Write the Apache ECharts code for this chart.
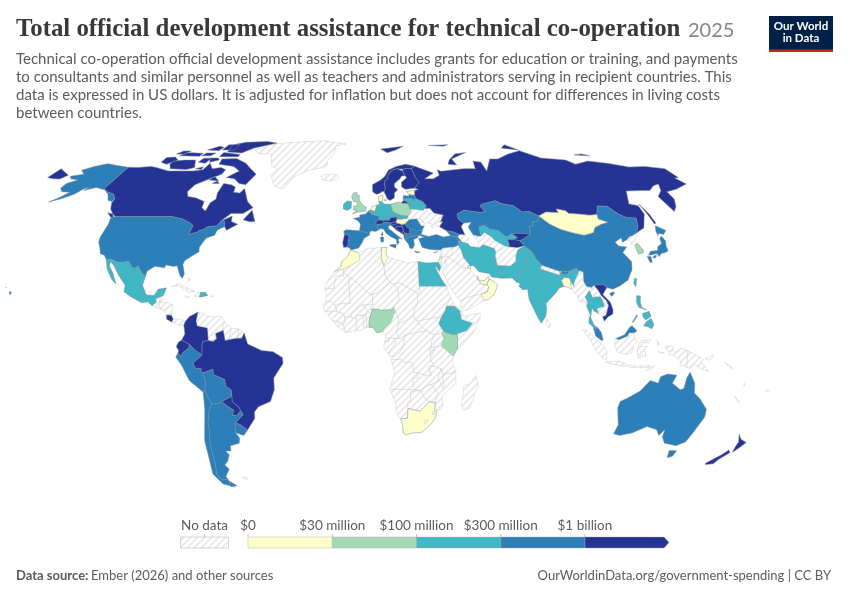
<!DOCTYPE html>
<html><head><meta charset="utf-8">
<style>html,body{margin:0;padding:0;background:#fff}#c{width:850px;height:600px}</style>
<script src="https://cdn.jsdelivr.net/npm/echarts@6/dist/echarts.min.js"></script>
</head><body><div id="c"></div>
<script>
// ---------- values ----------
const countryNames = ["Canada","Russia","Colombia","Ecuador","Brazil","Paraguay","Costa Rica","Norway","Sweden","Finland","Portugal","Switzerland","Austria","Bosnia and Herzegovina","Serbia","Croatia","Slovenia","Montenegro","Kyrgyzstan","Tajikistan","Vietnam","New Zealand",
"United States","Peru","Bolivia","Chile","Argentina","Uruguay","Spain","France","Italy","Romania","Bulgaria","North Macedonia","Albania","Greece","Turkey","Latvia","Kazakhstan","China","Japan","Malaysia","Australia","Georgia","Armenia","Bhutan",
"Mexico","Dominican Republic","Ireland","Germany","Belarus","Lithuania","Czechia","Slovakia","Belgium","Uzbekistan","Iran","Pakistan","India","Thailand","Philippines","Taiwan","Egypt","Ethiopia",
"United Kingdom","Poland","Nigeria","Kenya","South Korea",
"Denmark","Netherlands","Estonia","Hungary","Cyprus","Israel","Kuwait","Qatar","United Arab Emirates","Oman","Morocco","Tunisia","South Africa","Mongolia","Bangladesh"];
const countryValues = [1500e6,2400e6,1300e6,1100e6,2100e6,1050e6,1020e6,1250e6,1400e6,1050e6,1150e6,1100e6,1080e6,1020e6,1060e6,1010e6,1005e6,1001e6,1030e6,1020e6,1120e6,1040e6,
620e6,480e6,420e6,390e6,520e6,330e6,700e6,850e6,760e6,340e6,320e6,310e6,305e6,380e6,690e6,310e6,560e6,900e6,650e6,400e6,780e6,320e6,310e6,305e6,
240e6,130e6,180e6,280e6,150e6,120e6,160e6,110e6,140e6,190e6,220e6,260e6,290e6,170e6,210e6,120e6,230e6,200e6,
80e6,70e6,60e6,55e6,45e6,
20e6,25e6,8e6,15e6,4e6,12e6,5e6,6e6,18e6,9e6,22e6,10e6,24e6,7e6,16e6];
const binEdges = [0,30e6,100e6,300e6,1e9,3e9];
const binColors = ["#ffffcc","#a1dab4","#41b6c4","#2c7fb8","#253494"];
const legendLabels = ["$0","$30 million","$100 million","$300 million","$1 billion"];
const noDataLabel = "No data";
const titleText = "Total official development assistance for technical co-operation";
const yearText = "2025";
const subtitleText = "Technical co-operation official development assistance includes grants for education or training, and payments\nto consultants and similar personnel as well as teachers and administrators serving in recipient countries. This\ndata is expressed in US dollars. It is adjusted for inflation but does not account for differences in living costs\nbetween countries.";
const sourceBold = "Data source:";
const sourceText = "Ember (2026) and other sources";
const siteText = "OurWorldinData.org/government-spending | CC BY";

// ---------- geography (longitude, latitude rings) ----------
const G = {
"Greenland":[[-73,78,-68,76,-60,76,-55,70,-51,69,-53,66,-49,61.5,-43,60,-40,65,-33,68,-22,70,-22,73,-19,76,-19,80,-12,81.5,-30,83.5,-50,82.5,-62,81.5]],
"Canada":[[-141,69.6,-135,69.5,-128,70,-124,69.5,-115,68,-108,68,-100,68,-95,68.5,-94,71.5,-90,69,-85,69.5,-81.5,68.5,-82,66.5,-87,64.5,-93,62,-94.5,59,-92.5,57,-88,56.5,-82.5,55,-82,52.5,-79.5,51.2,-79,54.5,-77,56,-78,58.5,-77.5,62.5,-73,62,-70,61,-69.5,58.8,-66,58.5,-64.5,60.3,-62,57.5,-60,55,-56,52.5,-60,50.2,-66,50.2,-70,47,-65,49.2,-64.5,47,-61,46,-65.5,43.6,-67,45,-67.8,47,-69.2,47.4,-71,45.3,-75,45,-76.5,44,-79,43.3,-79,42.9,-83,42,-82.5,45.5,-84.5,46.5,-89,48,-95,49,-123,49,-125,50,-128,52,-130,54.5,-130,55.9,-133,58,-137.5,59,-141,60.3],
[-128,50.5,-125,50,-123.5,48.5,-125,48.7],[-59,47.7,-56,51.5,-53,47,-55.5,46.9],[-80,73.7,-72,71.5,-67,69,-62,66.5,-65,62,-69,62.5,-73,64.5,-78,65,-73,68,-78,70,-88,71,-89,73.5],[-118,71,-115,69,-105,68.6,-101,69.5,-105,73,-112,73,-118,72.5],[-125,72,-120,71,-116,73,-120,74.5,-125,74.2],[-90,77,-80,76.5,-75,79,-62,82,-70,83.1,-85,82.5,-92,81],[-92,74.6,-80,74.6,-80,75.7,-92,76.7],[-118,75,-105,74.8,-105,76.3,-116,76.7],[-95,72,-90,73,-92,74,-97,74],[-102,72,-97,71.5,-96,74,-101,73.9],[-104,75,-98,75,-97,76.5,-103,76.5],[-122,76,-117,75.8,-115,77.5,-120,77.5],[-95,78,-87,78,-87,81,-95,81],[-87,64,-81,63.5,-85,65.5],[-84,62.5,-80,62.5,-82,63.5],[-105,78,-97,77.7,-96,79.5,-100,80],[-100,69,-96,68.6,-96,69.8]],
"United States":[[-123,49,-95,49,-89,48,-84.5,46.5,-82.5,45.5,-83,42,-79,42.9,-79,43.3,-76.5,44,-75,45,-71,45.3,-69.2,47.4,-67.8,47,-67,45,-70,43.7,-70.5,41.7,-74,40.6,-75.5,38,-76,36.9,-75.5,35.3,-78,33.9,-81,32,-81.5,30.5,-80,26.8,-80.5,25.2,-81.7,26,-82.8,28,-84,30,-85.5,29.7,-89,30.3,-89.5,29.2,-91.5,29.5,-94,29.7,-97,27.9,-97.2,25.9,-99.5,27.5,-101.5,29.8,-103,29,-104.5,29.6,-106.5,31.8,-108.2,31.4,-111,31.3,-114.8,32.5,-117.1,32.5,-118.5,34,-120.6,34.6,-122,36.8,-123.8,39,-124.3,41,-124,46,-124.7,48.4],
[-141,69.6,-141,60.3,-137.5,59,-133,58,-130,55.9,-130.5,55,-133,55.5,-136,58,-140,59.8,-146,60.8,-151,59.5,-150,61,-152,60,-154,58,-158,56.2,-163,54.8,-160,56.5,-157.5,58.8,-162,59,-165,60.5,-165,62.5,-161,64,-166,64.5,-168,65.6,-162,66.5,-166.5,68.3,-162,70,-156.5,71.3,-150,70.5],
[-156,20.2,-155,19.6,-155.7,18.9,-156,19.5],[-158.2,21.6,-157.7,21.5,-157.8,21.2]],
"Mexico":[[-117.1,32.5,-114.8,32.5,-111,31.3,-108.2,31.4,-106.5,31.8,-104.5,29.6,-103,29,-101.5,29.8,-99.5,27.5,-97.2,25.9,-97.8,22.5,-95.5,18.8,-92,18.6,-90.5,21,-87,21.5,-88,18.5,-89.1,17.9,-91,17.2,-90.5,16,-92.2,14.6,-94.5,16.2,-97,15.8,-102,18,-105.5,20,-105.5,22.5,-109,26,-112.5,30,-114.7,31.6,-114.5,30,-112,27,-109.7,23,-112,24.8,-115,28.5]],
"Guatemala":[[-92.2,14.6,-90.5,16,-91,17.2,-89.1,17.9,-89.2,15.9,-88.3,15.7,-89.3,14.4,-90.1,13.8]],
"Belize":[[-89.1,17.9,-88,18.5,-88.3,16,-89.2,15.9]],
"Honduras":[[-89.2,15.9,-88.3,15.7,-85,16,-83.2,15,-84.7,14.7,-87.3,13,-87.8,13.4,-89.3,14.4]],
"El Salvador":[[-90.1,13.8,-89.3,14.4,-87.8,13.4,-88.8,13.2]],
"Nicaragua":[[-87.3,13,-84.7,14.7,-83.2,15,-83.6,11,-85.7,11.1]],
"Costa Rica":[[-85.7,11.1,-83.6,11,-82.6,9.5,-83,8.3,-85.5,9.5]],
"Panama":[[-83,8.3,-82.6,9.5,-79.5,9.6,-77.3,8.7,-77.9,7.2,-80.3,7.3]],
"Cuba":[[-85,21.9,-82,23.1,-77,21.2,-74.2,20.2,-77.7,19.9,-78,20.7,-82,22.3]],
"Haiti":[[-74.4,18.4,-72,18,-71.7,19.8,-72.8,19.9,-73,19]],
"Dominican Republic":[[-71.7,19.8,-72,18,-71,18,-68.4,18.6,-69.5,19.8]],
"Jamaica":[[-78.3,18.4,-76.3,18,-77.5,17.8]],
"Puerto Rico":[[-67.2,18.5,-65.7,18.3,-66.9,17.9]],
"Bahamas":[[-78,25.2,-77.3,24,-76.8,25]],
"Colombia":[[-77.3,8.7,-75.6,10.5,-72,12.3,-71.3,11.5,-72.5,9,-72,7,-67.5,6.2,-67,1.3,-69.5,1,-69.8,-0.5,-69.9,-4.2,-73,-2.3,-75.3,-0.1,-78.7,1.4,-77.3,3.8,-77.9,7.2]],
"Venezuela":[[-72,12.3,-71.3,11.5,-70,12,-68,10.6,-64,10.4,-62,10.7,-60,8.5,-61,7,-60.7,5.2,-64,4,-63.5,2,-65,1,-67,1.3,-67.5,6.2,-72,7,-72.5,9]],
"Guyana":[[-60,8.5,-57.2,6,-58,2.5,-56.5,1.9,-59.8,1.3,-60.7,5.2,-61,7]],
"Suriname":[[-57.2,6,-54,5.8,-54.3,2.2,-56.5,1.9,-58,2.5]],
"French Guiana":[[-54,5.8,-51.6,4.2,-52.7,2.2,-54.3,2.2]],
"Brazil":[[-51.6,4.2,-50,0,-44,-2.5,-39,-3,-35,-5.2,-34.8,-7.5,-39,-13,-39,-17.5,-41,-22,-46.5,-24,-48.5,-26,-48.7,-28.5,-53.4,-33.7,-53.1,-32.6,-55.7,-30.9,-57.6,-30.2,-53.7,-27,-54.6,-25.6,-55.4,-24,-58,-22,-57.9,-20,-58,-17.5,-60.2,-16.3,-60.5,-13.7,-65.3,-11.7,-65.4,-9.7,-69.6,-11,-70.6,-11,-70.5,-9.5,-73,-9.3,-74,-7.3,-69.9,-4.2,-69.8,-0.5,-69.5,1,-67,1.3,-65,1,-63.5,2,-64,4,-60.7,5.2,-59.8,1.3,-56.5,1.9,-54.3,2.2,-52.7,2.2]],
"Ecuador":[[-78.7,1.4,-75.3,-0.1,-75.5,-1.5,-78.3,-3.4,-79,-5,-80.3,-3.4,-80,-2.5,-81,-1,-80,0.8]],
"Peru":[[-75.3,-0.1,-73,-2.3,-69.9,-4.2,-74,-7.3,-73,-9.3,-70.5,-9.5,-70.6,-11,-69.6,-11,-69,-15,-69.5,-17.5,-70.4,-18.4,-76,-14,-79,-8,-81.3,-5,-80.3,-3.4,-79,-5,-78.3,-3.4,-75.5,-1.5]],
"Bolivia":[[-69.6,-11,-65.4,-9.7,-65.3,-11.7,-60.5,-13.7,-60.2,-16.3,-58,-17.5,-57.9,-20,-58.2,-20.2,-62.6,-22,-64.3,-22.8,-67,-23,-68.3,-21,-69.5,-17.5,-69,-15]],
"Paraguay":[[-57.9,-20,-58,-22,-55.4,-24,-54.6,-25.6,-56.5,-27.4,-58.6,-27.3,-57.7,-25.3,-60,-24,-62.6,-22,-58.2,-20.2]],
"Chile":[[-70.4,-18.4,-69.5,-17.5,-68.3,-21,-67,-23,-68.5,-25,-70,-30,-70.2,-33,-71.2,-38,-71.7,-42,-71.9,-46,-73,-50,-72,-52,-68.5,-52.3,-68.6,-54.9,-66.5,-55.2,-72,-54,-75,-50,-74,-44,-73.5,-37,-71.5,-30,-70.5,-25]],
"Argentina":[[-67,-23,-64.3,-22.8,-62.6,-22,-60,-24,-57.7,-25.3,-58.6,-27.3,-56.5,-27.4,-54.6,-25.6,-53.7,-27,-57.6,-30.2,-58.2,-32,-58.4,-34,-57,-36,-57.7,-38,-62,-39,-62.5,-41,-65,-41,-63.8,-42.5,-65.5,-45,-67.5,-46.5,-66,-48,-69,-51,-68.5,-52.3,-72,-52,-73,-50,-71.9,-46,-71.7,-42,-71.2,-38,-70.2,-33,-70,-30,-68.5,-25],[-68.5,-52.7,-65.2,-54.7,-68.6,-54.9]],
"Uruguay":[[-57.6,-30.2,-55.7,-30.9,-53.1,-32.6,-53.4,-33.7,-54.9,-35,-58.4,-34,-58.2,-32]],
"Falkland Islands":[[-61,-51.5,-58,-51.3,-59,-52.3]],
"Iceland":[[-24,65.5,-22,66.4,-16,66.5,-13.6,65,-18,63.4,-22.5,63.9]],
"Ireland":[[-10,52,-10,54,-8.2,55.2,-6,55,-6,52.3,-8,51.5]],
"United Kingdom":[[-5.3,50,-3,50.7,1.3,51.2,1.7,52.7,0,53.5,-1.5,55,-2,56,-2,57.6,-3.5,57.7,-3,58.6,-5,58.6,-6,57,-5,55,-3,54.8,-3,53.4,-5,53,-4.5,52,-5.2,51.7,-3,51.4]],
"Norway":[[5.2,59,7,58,8.5,58.2,10.6,59.2,11.3,59,12.3,60.5,12,61.5,12.2,63.5,14,64.5,14.5,66.2,16,67.5,18,68.5,20.5,69,23.5,68.7,25.7,69.1,29,69,31,70.2,26,71,20,70,15,68.3,12.5,65.5,10,64,5.2,62],[12,78.5,28,80,22,78,16,76.6]],
"Sweden":[[11.3,59,12.8,56,14.2,55.4,16.5,56.5,16.8,58.5,18.8,59.8,17.2,61,17.5,62.5,21,64.5,22.2,65.7,24.1,65.8,23.5,67.8,20.5,69,18,68.5,16,67.5,14.5,66.2,14,64.5,12.2,63.5,12,61.5,12.3,60.5]],
"Finland":[[24.1,65.8,25,65,21.5,63,21.2,61,23,60,28,60.5,31.5,62.9,30,65,29.5,67,29,69,25.7,69.1,23.5,68.7,23.5,67.8]],
"Denmark":[[8.2,55,8.2,57,10.6,57.7,10.3,56,9.8,54.8],[11,55.3,12.5,55.6,12.3,56,11,55.8]],
"Germany":[[6,51,7,53.5,8.7,54,8.2,55,9.8,54.8,11,54,14.2,53.9,14.7,52,15,51,12.2,50.3,13.8,48.7,13,47.5,10,47.5,7.6,47.6,8.2,49,6.3,49.5,6,50.1,5.9,50.8]],
"Netherlands":[[3.4,51.4,4.7,53,7,53.5,6,51,5.9,50.8,4.8,51.4]],
"Belgium":[[2.5,51.1,3.4,51.4,4.8,51.4,5.9,50.8,6,50.1,5.8,49.5,4.2,50]],
"France":[[2.5,51.1,4.2,50,5.8,49.5,6.3,49.5,8.2,49,7.6,47.6,6,46.5,7,45.9,7,44.2,7.5,43.8,6,43.1,3.8,43.4,3.1,42.5,-1.7,43.4,-1.2,46,-2.5,47.3,-4.7,48.2,-1.6,48.7,-1.6,49.6,1.5,50],[8.6,41.9,9.4,43,9.5,41.8,9.1,41.4]],
"Spain":[[-1.7,43.4,3.1,42.5,3.2,41.8,0.5,40.5,-0.3,39,0,38.7,-2,36.8,-5.5,36,-6.4,36.9,-7.4,37.2,-7,38,-7,39.6,-6.5,41.5,-8.2,42,-8.8,42,-9.2,43.2,-8,43.8]],
"Portugal":[[-8.8,42,-8.2,42,-6.5,41.5,-7,39.6,-7,38,-7.4,37.2,-9,37,-9.5,38.8]],
"Switzerland":[[6,46.5,7.6,47.6,10,47.5,10.4,46.6,9,46,7,45.9]],
"Austria":[[10,47.5,13,47.5,13.8,48.7,17,48.8,16.2,46.9,13.7,46.5,10.4,46.6]],
"Italy":[[7,45.9,9,46,10.4,46.6,13.7,46.5,13.7,45.7,12.3,45.3,12.3,44.2,13.6,43.5,16,41.8,18.5,40.2,17,40.5,16.5,39.7,17,39,16,38,15.7,40,13,41.2,11,42.5,10,44,8.5,44.3,7.5,43.8,7,44.2],[12.5,38,15.5,38.2,15.2,36.7,12.5,37.6],[8.2,41,9.7,41,9.6,39.2,8.5,39]],
"Slovenia":[[13.7,46.5,16.2,46.9,16.5,46.5,15.5,45.8,13.6,45.5]],
"Croatia":[[13.6,45.5,15.5,45.8,16.5,46.5,18.9,45.9,19,45,16,45.2,15.8,44.2,18.5,42.5,16,43.6,14.5,45]],
"Bosnia and Herzegovina":[[16,45.2,19,45,19.5,43.6,18.5,42.5,15.8,44.2]],
"Serbia":[[19,45.9,20.3,46.1,21.4,44.8,22.6,44.2,22.4,43,22.4,42.3,20.6,42.3,20,42.6,19.3,43,19.5,43.6,19,45]],
"Montenegro":[[19.5,43.6,19.3,43,20,42.6,19.4,41.9,18.5,42.5]],
"Albania":[[19.4,41.9,20,42.6,20.6,42.3,20.6,41.9,21,40.7,20,39.7,19.4,40.5]],
"North Macedonia":[[20.6,41.9,20.6,42.3,22.4,42.3,23,41.3,21,40.7]],
"Greece":[[20,39.7,21,40.7,23,41.3,26.3,41.7,26,40.8,23.8,40,24,38,23,36.5,21.7,36.8,21.2,38.3],[23.6,35.5,26.3,35.2,24.8,34.9]],
"Cyprus":[[32.3,35,34.5,35.6,33.6,34.8]],
"Bulgaria":[[22.4,43,22.6,44.2,25,43.7,28.5,43.7,27.7,42,26.3,41.7,23,41.3,22.4,42.3]],
"Romania":[[20.3,46.1,22.9,47.9,26.6,48.2,28.2,45.5,29.7,45.3,28.5,43.7,25,43.7,22.6,44.2,21.4,44.8]],
"Hungary":[[16.2,46.9,17,48,18.8,48,22.1,48.4,22.9,47.9,20.3,46.1,18.9,45.9,16.5,46.5]],
"Slovakia":[[17,48,17,48.8,19,49.5,22.5,49.1,22.1,48.4,18.8,48]],
"Czechia":[[12.2,50.3,15,51,16.5,50.3,19,49.5,17,48.8,13.8,48.7]],
"Poland":[[14.2,53.9,18.5,54.8,19.7,54.4,23,54.3,23.9,52.7,24,50.7,22.7,49.2,22.5,49.1,19,49.5,16.5,50.3,15,51,14.7,52]],
"Lithuania":[[21,55.3,21,56.1,25,56.3,26.7,55.6,25.7,54.2,23.5,54,23,54.3,22.8,55]],
"Latvia":[[21,56.1,21.5,57.5,24.3,57.2,24.4,57.9,27.4,57.6,28,56.1,26.7,55.6,25,56.3]],
"Estonia":[[23.5,59.2,28,59.5,27.4,57.6,24.4,57.9,24,58.3]],
"Belarus":[[23,54.3,23.5,54,25.7,54.2,26.7,55.6,28,56.1,31,55,32.5,53.2,31.5,52.2,30.5,51.3,25,51.9,24,51.6,23.9,52.7]],
"Ukraine":[[24,50.7,24,51.6,25,51.9,30.5,51.3,31.5,52.2,34,52.3,35.5,50.4,40,49.6,38.2,47.2,35,46.2,36.5,45.3,33.5,44.5,32.5,45.5,33.5,46.1,31,46.6,29.7,45.3,28.2,45.5,30,46.4,28.5,48.1,26.6,48.2,22.9,47.9,22.1,48.4,22.7,49.2]],
"Moldova":[[26.6,48.2,28.5,48.1,30,46.4,28.2,45.5]],
"Russia":[[29,69,29.5,67,30,65,31.5,62.9,28,60.5,30,60,28,59.5,27.4,57.6,28,56.1,31,55,32.5,53.2,31.5,52.2,34,52.3,35.5,50.4,40,49.6,38.2,47.2,37.5,47,39,47,37,45,40,43.4,43,43,46,41.9,48.5,41.8,47.5,45,49,46.4,47,48,47,50,51,51.5,55,51,59,50.6,61.5,51,60,53,61,53.9,69,55.3,71,54.2,73.5,53.8,77,53.3,80,50.8,83.5,51,87.3,49.2,92,50.8,98,50.5,98,52,102,51.3,103,50.2,107,50,113,49.5,116.7,49.8,120,53.2,125,53,127.5,50,130.5,48.5,135,48.4,133,45,131,43,130.6,42.5,132,43.2,135.5,44.5,140.5,50,141,53.3,137,54,142,59.3,150,59.5,155,59.5,160,61.5,164,62.3,161,59.5,156,57,156.7,51,160,53,163,56,163.5,59,170,60,179.5,62.3,177.5,64.8,180,65,180,69,170,70,160,69.7,150,71.5,140,72.5,130,71,127,73,113,74,105,77.7,95,76,85,73.5,80,73.5,73,68,73,72,68.5,72.5,67,69,60,69,54,68.5,46,67.8,44,68.5,44,66,40,64.5,35,64.5,41,67,33,69.5,31,70.2],
[-180,65,-176,64.5,-172,64.4,-170,66,-175,67.5,-180,69],[19.7,54.4,23,54.3,22.8,55,21,55.3],[142,54,143,50,143,46.5,142,46,142,50],[52,71,57,70.7,56,73.5,68,76.8,60,76,54,73],[95,79,105,78,100,81],[137,75.5,146,75,143,76],[46,80.5,60,81,56,80]],
"Georgia":[[40,43.4,43,43,46,41.9,45,41.2,43.5,41.1,41.5,41.5]],
"Armenia":[[43.5,41.1,45,41.2,46.5,39,44.8,39.7]],
"Azerbaijan":[[45,41.2,46,41.9,48.5,41.8,50,40.4,49,38.4,46.5,39]],
"Turkey":[[26.3,41.7,28,42,31,41.2,35,42,38,41,41.5,41.5,43.5,41.1,44.8,39.7,44.5,37.8,42.3,37.1,37,36.7,36,36,32.5,36.1,30.5,36.3,27.5,37,26.5,39.5,26.2,40.3,29,41]],
"Syria":[[36,36,37,36.7,42.3,37.1,41.3,36,41,34.4,38.8,33.4,36,33,35.9,34.6,35.7,35]],
"Lebanon":[[35.9,34.6,36.5,34.5,35.8,33.3,35.1,33.1]],
"Israel":[[35.1,33.1,35.8,33.3,35.5,31,35,29.5,34.2,31.3]],
"Jordan":[[35.8,33.3,36,33,38.8,33.4,37,31.5,38,30.5,36,29.2,35,29.5,35.5,31]],
"Iraq":[[41,34.4,41.3,36,42.3,37.1,44.5,37.8,45.5,35.8,46,33,47.7,31,48.5,30,47.7,30,47,29,44.7,29.2,42,31.2,38.8,33.4]],
"Kuwait":[[47.7,30,48.5,30,48.3,28.6,47,29]],
"Iran":[[44.5,37.8,44.8,39.7,46.5,39,49,38.4,50,37.3,54,37,56,38.2,61,36.6,61.2,35,60.6,33.5,60.8,30,61.8,29.5,63.3,27,61.6,25.2,57.5,25.7,56.5,27,52,27.7,50,30,48.5,30,47.7,31,46,33,45.5,35.8]],
"Saudi Arabia":[[34.8,29,36,29.2,38,30.5,37,31.5,38.8,33.4,42,31.2,44.7,29.2,47,29,48.3,28.6,50,26.5,50.8,25,51.5,24.5,52.6,22.9,55,22.6,55.7,22,55,20,52,19,49,18.5,44.5,17.4,43.2,16.6,42.5,16.5,39,21,36.5,26]],
"Qatar":[[50.8,25,51.2,26.1,51.6,25,51.5,24.5]],
"United Arab Emirates":[[51.5,24.5,54,24.2,56,26,56.3,24.9,55.7,24,55,22.6,52.6,22.9]],
"Oman":[[56.3,24.9,58.7,23.6,59.8,22.5,57.8,19,55,17,53.1,16.7,52,19,55,20,55.7,22,55,22.6,55.7,24]],
"Yemen":[[43.2,16.6,44.5,17.4,49,18.5,52,19,53.1,16.7,48,14,45,12.8,43.5,12.7,42.8,15]],
"Kazakhstan":[[47,50,47,48,49,46.4,53,46.8,51,45,51,44.5,52.5,41.7,54.8,41.2,56,41.3,56,45,59,45.5,61,44,65,43.5,66.5,41.9,68,41,71,42.3,73.5,42.5,80,42.2,80.3,45,82.5,45.3,83,47,85.5,47,87.3,49.2,83.5,51,80,50.8,77,53.3,73.5,53.8,71,54.2,69,55.3,61,53.9,60,53,61.5,51,59,50.6,55,51,51,51.5]],
"Uzbekistan":[[56,41.3,58,42.7,60.5,41.2,62,39.5,66,37.4,67.5,37.2,68.3,38,68,40,71,40,73,40.8,71,42.3,68,41,66.5,41.9,65,43.5,61,44,59,45.5,56,45]],
"Turkmenistan":[[52.5,41.7,54.8,41.2,56,41.3,58,42.7,60.5,41.2,62,39.5,66,37.4,64.5,36.3,61.2,35.5,61,36.6,56,38.2,54,37,53.8,39.5]],
"Kyrgyzstan":[[71,42.3,73.5,42.5,80,42.2,76,40.4,73.7,39.5,71,40,73,40.8]],
"Tajikistan":[[68,40,71,40,73.7,39.5,75,37.5,71.5,36.8,67.5,37.2,68.3,38]],
"Afghanistan":[[61.2,35.5,64.5,36.3,66,37.4,67.5,37.2,71.5,36.8,75,37.5,71.5,36,70,33.5,69.5,31.5,66.5,29.8,60.8,30,60.6,33.5,61.2,35]],
"Pakistan":[[60.8,30,66.5,29.8,69.5,31.5,70,33.5,71.5,36,75,37.5,77.8,35.5,74,33,74.5,31,71,27.7,70,25,68.2,23.7,66.5,25.3,61.6,25.2,63.3,27,61.8,29.5]],
"India":[[74,33,77.8,35.5,79,32.5,81,30.2,80,28.8,88,26.4,88.2,27.9,89,26.8,92,26.9,92,27.8,96,29,97.3,28,94.5,24.5,93.3,22,92.3,24,92.2,25.2,89.8,25.5,88.3,24.3,89,22,87,21.5,85,19.5,80.2,15.5,80.3,13,79.5,10.3,77.5,8,76,10.5,73,17,72.8,21,70.5,20.8,69,22.3,70,23,68.2,23.7,70,25,71,27.7,74.5,31]],
"Nepal":[[80,28.8,81,30.2,88.2,27.9,88,26.4]],
"Bhutan":[[89,26.8,89,28,92,27.8,92,26.9]],
"Bangladesh":[[88.3,24.3,89.8,25.5,92.2,25.2,92.3,24,92.3,21,90,22,89,22]],
"Sri Lanka":[[80,9.7,81.8,7.5,80.6,6,79.8,7.5]],
"China":[[73.7,39.5,76,40.4,80,42.2,80.3,45,82.5,45.3,83,47,85.5,47,87.3,49.2,91,46,95,44,100,42.7,105,41.7,110,42.7,112,44.7,116,46,119.8,46.7,116,48,116.7,49.8,120,53.2,125,53,127.5,50,130.5,48.5,135,48.4,133,45,131,43,130.6,42.5,128,41.5,126,41,124.3,40,121.5,39,122,40.7,118,39,119,37.5,122.5,37.2,119.5,35,122,31.5,121,28.5,118,24.5,114,22.3,110.5,21,108,21.6,106.5,22.8,102.5,22.5,101.5,21.2,101.2,21.5,99,22,98,24,98.7,27.5,97.3,28,96,29,92,27.8,89,28,88.2,27.9,81,30.2,79,32.5,77.8,35.5,75,37.5],[108.7,19.3,110.5,20,111,19.5,109.5,18.2]],
"Taiwan":[[120.2,23,121,25.2,122,25,120.9,22]],
"Mongolia":[[87.3,49.2,92,50.8,98,50.5,98,52,102,51.3,103,50.2,107,50,113,49.5,116.7,49.8,116,48,119.8,46.7,116,46,112,44.7,110,42.7,105,41.7,100,42.7,95,44,91,46]],
"North Korea":[[124.3,40,126,41,128,41.5,130.6,42.5,129.7,41,127.5,39.8,128.3,38.6,126.8,38,125,37.8,125.5,39]],
"South Korea":[[126.8,38,128.3,38.6,129.5,36,129,35,126.5,34.4,126.5,37]],
"Japan":[[130.9,34,132.5,35.5,136,35.8,137,37.3,139.5,38.5,140,40.5,141.5,41.3,142,39.5,141,37.5,140.8,35.7,139,35,137,34.7,135.5,33.5,135,34.7,132.5,34.2],[140,41.6,140.3,43.3,141.8,45.4,145.3,43.5,143,42,141,42.5],[130,33.5,131.7,33.5,131.3,31.3,130.2,31.3],[132.4,33.3,134.5,34.2,134,33.3,133,32.8]],
"Myanmar":[[92.3,21,92.3,24,93.3,22,94.5,24.5,97.3,28,98.7,27.5,98,24,99,22,101.2,21.5,100,20.4,97.8,18,98.7,16,98,14.5,99.3,11,98.5,10,98,14,97.5,16.5,95,16,94.3,18.5,93,20]],
"Laos":[[100,20.4,101.2,21.5,101.5,21.2,102.5,22.5,104,20.5,105,18.5,107,16.5,107.5,14.7,105.5,14.3,105.5,15.5,104.5,18,102,18,101,17.5]],
"Thailand":[[97.8,18,100,20.4,101,17.5,102,18,104.5,18,105.5,15.5,105.5,14.3,102.5,13.5,102.9,11.7,100.9,12.6,100.5,13.5,100,13.4,99.2,10,100.5,7.2,102,6.2,101,5.7,100,6.5,98.3,8,98.5,10,99.3,11,98,14.5,98.7,16]],
"Cambodia":[[102.5,13.5,105.5,14.3,107.5,14.7,106,11,104.5,10.4,102.9,11.7]],
"Vietnam":[[102.5,22.5,106.5,22.8,108,21.6,105.7,19,108.5,16,109.3,13,109,11.5,106.7,10.3,105,8.7,104.5,10.4,106,11,107.5,14.7,107,16.5,105,18.5,104,20.5]],
"Malaysia":[[100,6.5,101,5.7,102,6.2,103.4,4.5,104.2,1.4,103.4,1.4,101,3,100.3,5.5],[109.6,2,111,1.5,115,3,115.6,4.2,117.5,4.2,119,5,117,7,116,6.5,113.5,3.5,111.3,2.7]],
"Indonesia":[[109,0.5,109.6,2,111,1.5,115,3,115.6,4.2,117.5,4.2,118,2,119,1,117.5,0,116.5,-3.5,114.5,-4,110.2,-3,109.2,-0.5],[95.3,5.6,97.5,5.2,100.5,2.3,103.5,0,106,-3,105.8,-5.8,104.5,-5.8,101,-2.5,98.5,1.7],[105.2,-6.8,108.5,-6.7,111,-6.5,114.5,-7.8,114.4,-8.7,110,-8,106.5,-7.4],[119.5,-5.5,119,-3,119.8,0.5,121,1.3,125,1.6,124,0.4,120.5,0.5,121,-1,123.4,-0.9,122,-1.8,122.9,-4.5,121.5,-4.8,121,-2.8,120.4,-3,120.4,-5.5],[115,-8.2,119,-8.4,125,-8.3,125,-9,119,-9,116,-8.9],[123.5,-10.2,127,-8.4,125,-9.5],[127.5,1.5,128.5,0,127.8,-0.8],[128,-3,130.8,-3.3,129,-3.5],[131,-0.8,134,-0.8,135,-3.3,138,-1.7,141,-2.6,141,-9.1,139,-8,138,-8.4,138,-6.5,135,-4.4,132.8,-4,133.5,-2.7,132,-2.7]],
"Papua New Guinea":[[141,-2.6,145,-4.3,147.8,-6,147,-6.8,150.7,-10.5,147,-9.5,144,-7.7,143,-9.2,141,-9.1],[148.5,-5.7,152,-4.2,152.2,-5,150,-6.2]],
"Solomon Islands":[[157,-7,160,-8.5,161,-9.5,159,-8.5]],
"New Caledonia":[[164,-20,167,-22.3,166,-22]],
"Vanuatu":[[167,-15,167.6,-16.2,167,-16]],
"Fiji":[[177.5,-17.5,178.6,-18,177.3,-18.2]],
"Philippines":[[120.5,18.5,122.2,18.4,121.6,16,122,14,124,13,123,13.3,120.7,14,120,16],[122,7,123.5,8.7,125.5,9.8,126.5,7.5,125.5,5.8,124,6.5],[122,11.7,125,12.5,125.5,10.5,123,9.2,122,10.5],[117.2,8.4,119.5,11.3,119.6,10.6,117.6,8.3]],
"Australia":[[114,-22,113.4,-24.5,115.7,-31,115,-34.4,118,-35,123.5,-34,129,-31.6,134,-32.8,136,-35,137.8,-32.7,138,-35.5,140.5,-38,144,-38.5,146.4,-39,150,-37.5,151.2,-34,153.5,-28,153,-25,149,-21,146,-18.8,145.3,-15,142.6,-10.8,141.5,-13,141,-17,139.5,-17.5,135.5,-15,137,-12,133,-11.5,130,-12.5,129.3,-15,125.7,-14,122,-18,117,-20.7],[144.7,-40.8,148.3,-40.9,148,-43,146,-43.6]],
"New Zealand":[[172.7,-34.5,175,-36.5,178.4,-37.7,177,-39.6,175.3,-41.6,174.7,-39.5,174.7,-37.5],[172.7,-40.6,174.2,-41.6,171.3,-44.3,170.5,-46,167,-46.3,166.5,-45.8,171,-42.5]],
"Morocco":[[-5.9,35.8,-2,35.1,-1.2,32.5,-3.7,30.8,-8.7,28.7,-13,27.7,-10,29.5,-9.7,31.5,-7,33.7]],
"Algeria":[[-2,35.1,2,36.6,8.6,36.9,8.3,33,9.5,30,9.9,26.5,11.9,23.5,6,19.4,3.3,18.9,-4.8,25,-8.7,27.3,-8.7,28.7,-3.7,30.8,-1.2,32.5]],
"Tunisia":[[8.6,36.9,11,37,10.5,34.5,11.5,33.2,9.5,30,8.3,33]],
"Libya":[[11.5,33.2,15.3,32.3,20,31,25,31.6,25,20,24,19.5,16,23.5,14,22.7,11.9,23.5,9.9,26.5,9.5,30]],
"Egypt":[[25,31.6,29,31,34.2,31.3,35,29.5,34.3,27.8,33,29.7,32.4,29.9,33.7,27,35.5,24,37,22,25,22]],
"Western Sahara":[[-13,27.7,-8.7,28.7,-8.7,27.3,-8.7,26,-12,26,-13,21.3,-17,21.3,-16,23.7,-14.5,26]],
"Mauritania":[[-17,21.3,-13,21.3,-12,26,-8.7,26,-8.7,27.3,-4.8,25,-6.5,25,-5.5,15.5,-10,15.4,-12.2,14.8,-14,16.5,-16.5,16,-16,19]],
"Mali":[[-4.8,25,3.3,18.9,4.2,19,4.2,15,0,15,-2,14.2,-4.4,12.2,-5.5,10.4,-8,10.3,-8.5,11.5,-11.4,12.4,-12.2,14.8,-10,15.4,-5.5,15.5,-6.5,25]],
"Senegal":[[-17.5,14.7,-16.5,16,-14,16.5,-12.2,14.8,-11.4,12.4,-13.7,12.6,-16.7,12.4]],
"Guinea-Bissau":[[-16.7,12.4,-13.7,12.6,-15,11]],
"Guinea":[[-15,11,-13.7,12.6,-11.4,12.4,-8.5,11.5,-8,10.3,-7.7,8.4,-9,7.5,-10.5,8.5,-13.3,9]],
"Sierra Leone":[[-13.3,9,-10.5,8.5,-11.5,7]],
"Liberia":[[-11.5,7,-10.5,8.5,-9,7.5,-8.5,7.5,-7.5,4.4]],
"Ivory Coast":[[-7.5,4.4,-8.5,7.5,-7.7,8.4,-8,10.3,-5.5,10.4,-2.8,9.5,-3,5.1]],
"Ghana":[[-3,5.1,-2.8,9.5,-2.8,11,0,11,0.5,6,-1,5.2]],
"Togo":[[0,11,1,11,1.6,9,1.6,6.2,0.5,6]],
"Benin":[[1,11,2.4,12.3,3.6,11.7,2.7,9,2.7,6.4,1.6,6.2,1.6,9]],
"Burkina Faso":[[-5.5,10.4,-4.4,12.2,-2,14.2,0,15,2.4,12.3,1,11,0,11,-2.8,11,-2.8,9.5]],
"Niger":[[0,15,4.2,15,4.2,19,3.3,18.9,6,19.4,11.9,23.5,14,22.7,15.5,21,15.8,16.8,13.5,14,12.5,13.2,8.5,12.9,4,13.5,3.6,11.7,2.4,12.3]],
"Nigeria":[[2.7,6.4,2.7,9,3.6,11.7,4,13.5,8.5,12.9,12.5,13.2,13.5,14,14.2,12.5,12,8,9.5,6,8.6,4.8,6,4.3,4.4,6.3]],
"Chad":[[14,22.7,16,23.5,24,19.5,24,15.7,22.5,13,22,11,18.9,9,15.5,7.7,15.2,10,14.2,12.5,13.5,14,15.8,16.8,15.5,21]],
"Cameroon":[[8.6,4.8,9.5,6,12,8,14.2,12.5,15.2,10,15.5,7.7,14.5,4.5,16,2,13,2.2,9.8,2.3,9.8,3.8]],
"Central African Republic":[[14.5,4.5,15.5,7.7,18.9,9,22,11,23.5,8.7,27.4,5,22.7,4.3,18.6,3.5,16,2]],
"Sudan":[[24,19.5,25,20,25,22,37,22,37.3,20.8,38.5,18,36.5,14.3,36,12.7,34.3,10.5,33,10.2,28,9.5,23.5,8.7,22,11,22.5,13,24,15.7]],
"South Sudan":[[23.5,8.7,28,9.5,33,10.2,34.3,10.5,33,7.8,35,5,34,4.2,30.8,3.5,27.4,5]],
"Eritrea":[[36.5,14.3,38.5,18,40,15,43,12.6,42.4,12.5,40,14.5,37,14.5]],
"Ethiopia":[[36,12.7,36.5,14.3,37,14.5,40,14.5,42.4,12.5,42.7,11,43,9.5,44.5,9,47.9,8,45,5,42,4.1,41,3.9,39.5,3.5,36,4.4,35,5,33,7.8,34.3,10.5]],
"Djibouti":[[42.4,12.5,43.3,12.5,43.3,11.5,42.7,11]],
"Somalia":[[43.3,11.5,44,10.5,47,11.2,51.2,11.9,51,10,48,4.5,42,-1.7,41,-1.7,41,3.9,42,4.1,45,5,47.9,8,44.5,9,43,9.5,42.7,11]],
"Kenya":[[34,4.2,35,5,36,4.4,39.5,3.5,41,3.9,41,-1.7,39.2,-4.7,37.7,-3.6,34,-1,33.9,0.1,35,1.9]],
"Uganda":[[30.8,3.5,34,4.2,35,1.9,33.9,0.1,34,-1,30.8,-1.1,29.6,-1.4,29.7,0.8]],
"Rwanda":[[29,-1.4,29.6,-1.4,30.8,-1.1,30.8,-2.3,29,-2.7]],
"Burundi":[[29,-2.7,30.8,-2.3,30,-4.4,29.4,-4.4]],
"Tanzania":[[30.8,-1.1,34,-1,37.7,-3.6,39.2,-4.7,38.8,-6.5,39.5,-8,40.4,-10.5,38,-11.3,34.9,-11.5,34,-9.5,31,-8.6,29.4,-6,29.4,-4.4,30,-4.4,30.8,-2.3]],
"DR Congo":[[12.2,-6,13,-4.8,14,-4.5,16,-3,17.7,-0.5,17.8,3,18.6,3.5,22.7,4.3,27.4,5,30.8,3.5,29.7,0.8,29.6,-1.4,29,-1.4,29,-2.7,29.4,-4.4,29.4,-6,31,-8.6,28.7,-8.5,28.5,-9,29.8,-12,28.3,-12.3,25.5,-11.5,24,-11,22,-11,22,-9.5,21,-7,17.5,-7,16.3,-5.9]],
"Congo":[[11.1,-3.9,12,-5,13,-4.8,14,-4.5,16,-3,17.7,-0.5,17.8,3,18.6,3.5,16,2,13,2.2,14.3,1,13.2,-1,11.5,-2.5]],
"Gabon":[[9.4,1,11.3,1,11.3,2.2,13,2.2,14.3,1,13.2,-1,11.5,-2.5,11.1,-3.9,9,-1.3]],
"Equatorial Guinea":[[9.4,1,11.3,1,11.3,2.2,9.8,2.3]],
"Angola":[[12.2,-6,16.3,-5.9,17.5,-7,21,-7,22,-9.5,22,-11,24,-11,24,-13,22,-13,22,-16.2,23.4,-17.6,18.5,-17.4,14,-17.4,11.8,-17.3,13.8,-11,13,-8.5]],
"Zambia":[[22,-13,24,-13,24,-11,25.5,-11.5,28.3,-12.3,29.8,-12,28.5,-9,28.7,-8.5,31,-8.6,34,-9.5,33,-12,32.9,-14,30.2,-15.5,28,-16,25.5,-17.8,23.4,-17.6,22,-16.2]],
"Malawi":[[34,-9.5,34.9,-11.5,35,-14,35.8,-16,35,-17,33.5,-14,32.9,-14,33,-12]],
"Mozambique":[[34.9,-11.5,38,-11.3,40.4,-10.5,40.7,-15,37,-18,35,-20,35.5,-24,32.9,-26,32,-25.5,32,-22.4,33,-19,30.4,-16,30.2,-15.5,32.9,-14,33.5,-14,35,-17,35.8,-16,35,-14]],
"Zimbabwe":[[25.5,-17.8,28,-16,30.2,-15.5,30.4,-16,33,-19,32,-22.4,29.4,-22.2,27,-20.5]],
"Namibia":[[11.8,-17.3,14,-17.4,18.5,-17.4,23.4,-17.6,25.5,-17.8,21,-18.3,21,-22,20,-22,20,-28.4,17,-28.7,15,-26.5,14.4,-22.5]],
"Botswana":[[21,-18.3,25.5,-17.8,27,-20.5,29.4,-22.2,26.8,-24.5,25.5,-25.7,23,-25.3,20,-24.7,20,-22,21,-22]],
"South Africa":[[17,-28.7,20,-28.4,20,-24.7,23,-25.3,25.5,-25.7,26.8,-24.5,29.4,-22.2,32,-22.4,32,-25.5,32.9,-26,32.5,-28.5,30.5,-31,27,-33.8,22,-34.2,20,-34.8,18.4,-34.2,18.2,-32]],
"Lesotho":[[27.2,-29.5,29,-28.7,29.4,-29.8,28,-30.6]],
"Eswatini":[[31,-25.8,32,-25.8,32,-27,31,-27]],
"Madagascar":[[49.3,-12,50.5,-15.5,47.5,-24.5,45,-25.5,43.5,-23,44.3,-20,44,-16.3,47,-15]]
};

// ---------- Robinson projection ----------
const PLEN=[1,.9986,.9954,.99,.9822,.973,.96,.9427,.9216,.8962,.8679,.835,.7986,.7597,.7186,.6732,.6213,.5722,.5322];
const PDFE=[0,.062,.124,.186,.248,.31,.372,.434,.4958,.5571,.6176,.6769,.7346,.7903,.8435,.8936,.9394,.9761,1];
const R=155.7,CX=363,CY=344;
function lerp(t,a){const u=Math.min(17.999,Math.abs(a)/5),i=Math.floor(u);return t[i]+(t[i+1]-t[i])*(u-i);}
const projection={
 project(p){const lon=p[0]*Math.PI/180,lat=p[1];
  return [CX+.8487*R*lerp(PLEN,lat)*lon, CY-1.3523*R*lerp(PDFE,lat)*Math.sign(lat)];},
 unproject(q){const y=(CY-q[1])/(1.3523*R),a=Math.abs(y);let i=0;while(i<17&&PDFE[i+1]<a)i++;
  const lat=Math.sign(y)*(i+(a-PDFE[i])/(PDFE[i+1]-PDFE[i]))*5;
  return [(q[0]-CX)/(.8487*R*lerp(PLEN,lat))*180/Math.PI,lat];}
};
const features=Object.keys(G).map(name=>({type:"Feature",properties:{name},geometry:{type:"MultiPolygon",
 coordinates:G[name].map(r=>{const ring=[];for(let i=0;i<r.length;i+=2)ring.push([r[i],r[i+1]]);ring.push([r[0],r[1]]);return [ring];})}}));
echarts.registerMap("world",{type:"FeatureCollection",features});
let x0=1e9,x1=-1e9,y0=1e9,y1=-1e9;
features.forEach(f=>f.geometry.coordinates.forEach(pg=>pg[0].forEach(c=>{const q=projection.project(c);
 x0=Math.min(x0,q[0]);x1=Math.max(x1,q[0]);y0=Math.min(y0,q[1]);y1=Math.max(y1,q[1]);})));

// hatch pattern
const tile=document.createElement("canvas");tile.width=tile.height=7;
(function(){const t=tile.getContext("2d");t.fillStyle="#fff";t.fillRect(0,0,7,7);t.strokeStyle="#e8e8e8";t.lineWidth=1.7;
 [[-7,7,7,-7],[0,7,7,0],[0,14,14,0]].forEach(l=>{t.beginPath();t.moveTo(l[0],l[1]);t.lineTo(l[2],l[3]);t.stroke();});})();
const hatch={image:tile,repeat:"repeat"};

// legend
const LX=[248,332.3,416.5,500.7,584.9,669],LY=537,LH=11;
const gfx=[];
gfx.push({type:"rect",shape:{x:180.5,y:LY,width:48,height:LH},style:{fill:hatch,stroke:"#bbb",lineWidth:.6},silent:true});
gfx.push({type:"line",shape:{x1:204.5,y1:534,x2:204.5,y2:LY},style:{stroke:"#999",lineWidth:.6},silent:true});
gfx.push({type:"text",style:{text:noDataLabel,x:204.5,y:525.5,align:"center",verticalAlign:"middle",font:"13.5px Lato",fill:"#5b5b5b"},silent:true});
binColors.forEach((c,i)=>{
 const last=i===binColors.length-1;
 if(last) gfx.push({type:"polygon",shape:{points:[[LX[i],LY],[LX[i+1]-5,LY],[LX[i+1],LY+LH/2],[LX[i+1]-5,LY+LH],[LX[i],LY+LH]]},style:{fill:c,stroke:"#aaa",lineWidth:.4},silent:true});
 else gfx.push({type:"rect",shape:{x:LX[i],y:LY,width:LX[i+1]-LX[i],height:LH},style:{fill:c,stroke:"#aaa",lineWidth:.4},silent:true});
 gfx.push({type:"line",shape:{x1:LX[i],y1:534,x2:LX[i],y2:LY},style:{stroke:"#999",lineWidth:.6},silent:true});
 gfx.push({type:"text",style:{text:legendLabels[i],x:LX[i],y:525.5,align:"center",verticalAlign:"middle",font:"13.5px Lato",fill:"#5b5b5b"},silent:true});
});
// logo
gfx.push({type:"rect",shape:{x:769,y:16,width:64,height:36},style:{fill:"#002147"},silent:true});
gfx.push({type:"rect",shape:{x:769,y:49.5,width:64,height:2.5},style:{fill:"#ce261e"},silent:true});
gfx.push({type:"text",style:{text:"Our World\nin Data",x:801,y:32.5,align:"center",verticalAlign:"middle",font:"bold 11.5px Lato",lineHeight:12.5,fill:"#fff"},silent:true});
// footer
gfx.push({type:"text",style:{text:sourceBold,x:16,y:576,verticalAlign:"middle",font:"bold 13px Lato",fill:"#5b5b5b"},silent:true});
gfx.push({type:"text",style:{text:sourceText,x:91,y:576,verticalAlign:"middle",font:"13px Lato",fill:"#5b5b5b"},silent:true});
gfx.push({type:"text",style:{text:siteText,x:831,y:576,align:"right",verticalAlign:"middle",font:"13px Lato",fill:"#5b5b5b"},silent:true});
// title
gfx.push({type:"text",style:{text:titleText,x:16,y:30,verticalAlign:"middle",font:"bold 24.8px 'Liberation Serif'",fill:"#383838"},silent:true});
gfx.push({type:"text",style:{text:yearText,x:688,y:31,verticalAlign:"middle",font:"20px Lato",fill:"#858585"},silent:true});
gfx.push({type:"text",style:{text:subtitleText,x:16,y:50,verticalAlign:"top",font:"15px Lato",lineHeight:18,fill:"#5b5b5b"},silent:true});

const chart=echarts.init(document.getElementById("c"),null,{renderer:"canvas"});
chart.setOption({
 animation:false,backgroundColor:"#fff",
 tooltip:{show:false},
 visualMap:{show:false,type:"piecewise",seriesIndex:0,
  pieces:binColors.map((c,i)=>({gte:binEdges[i],lt:binEdges[i+1],color:c}))},
 graphic:{elements:gfx},
 series:[{type:"map",map:"world",projection,silent:true,
  left:x0,top:y0,width:x1-x0,height:y1-y0,roam:false,
  label:{show:false},emphasis:{disabled:true},select:{disabled:true},
  itemStyle:{areaColor:hatch,borderColor:"#cccccc",borderWidth:.5},
  data:countryNames.map((n,i)=>({name:n,value:countryValues[i],itemStyle:{borderColor:"#7f8a96",borderWidth:.5}}))}]
});
</script></body></html>
